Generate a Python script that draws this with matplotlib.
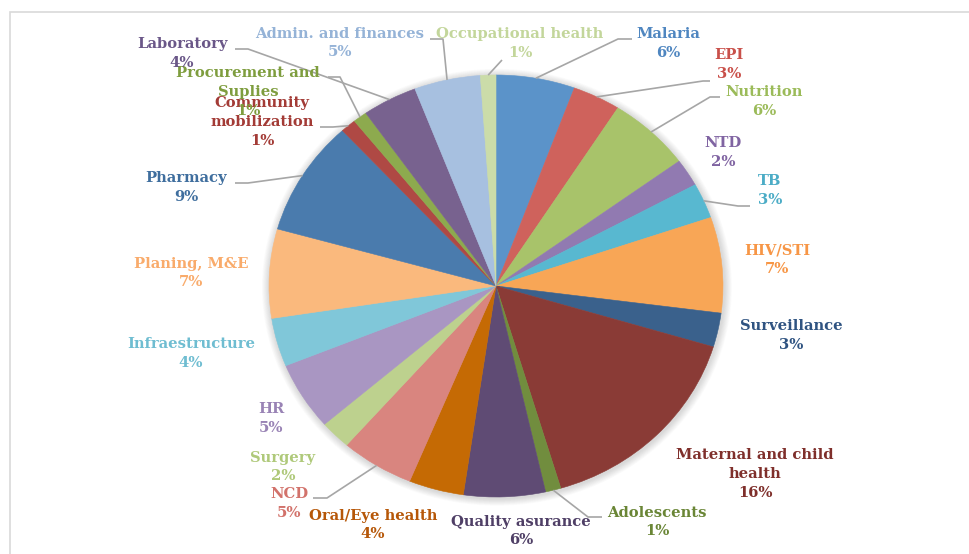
import matplotlib
matplotlib.use("Agg")
import matplotlib.pyplot as plt
from matplotlib.patches import Rectangle, Ellipse
import numpy as np

# ---------------- data ----------------
categories = ["Malaria", "EPI", "Nutrition", "NTD", "TB", "HIV/STI", "Surveillance",
              "Maternal and child\nhealth", "Adolescents", "Quality asurance",
              "Oral/Eye health", "NCD", "Surgery", "HR", "Infraestructure",
              "Planing, M&E", "Pharmacy", "Community\nmobilization",
              "Procurement and\nSuplies", "Laboratory", "Admin. and finances",
              "Occupational health"]
values = [5.6, 3.4, 5.9, 2.1, 2.7, 7.3, 2.6, 15.7, 1.1, 5.8, 3.9, 5.2, 2.2, 5.2,
          3.7, 6.8, 8.8, 1.1, 1.0, 3.9, 4.7, 1.1]
colors = ["#5B93C9", "#CF625C", "#A8C36A", "#917AB1", "#58B8D0", "#F8A656", "#3A618C",
          "#8A3B36", "#718D3E", "#5F4B74", "#C56A04", "#D9857F", "#BDD18E", "#A996C2",
          "#80C7D9", "#FAB97D", "#4A7BAD", "#AF4944", "#8DAA4E", "#78628F", "#A7C0E0",
          "#CBDCA9"]
text_colors = ["#4F86C0", "#C9504A", "#9BBB59", "#8064A2", "#4BACC6", "#F79646", "#2F5381",
               "#7F2F2B", "#6A8636", "#4F3F66", "#B65708", "#D2726B", "#AFC97A", "#9983B5",
               "#6FBDD1", "#F9AB6B", "#3F6E9E", "#A33B36", "#7E9D3E", "#6A5788", "#95B3D7",
               "#C3D69B"]

# ---------------- layout (pixels) ----------------
W, H = 969, 554
CX, CY, RX, RY = 496, 286, 227, 211

label_pos = [(668, 43.5), (729, 64.5), (764, 101.5), (723, 152.5), (770, 190.5),
             (777, 259.5), (791, 335.5), (755, 474), (657, 522), (521, 531),
             (373, 525), (289, 503.5), (283, 467), (271, 418.5), (191, 353.5),
             (191, 273), (186, 187.5), (262, 122), (248, 92), (182, 53.5),
             (340, 43), (520, 43.5)]
# leader line points on label side (end, elbow)
leaders = {0: [(632, 39), (618, 39)], 1: [(710, 81), (703, 81)], 2: [(720, 97), (710, 97)],
           4: [(750, 206), (738, 206)], 8: [(602, 517), (588, 517)],
           11: [(313, 498), (327, 498)], 16: [(235, 183), (248, 183)],
           17: [(320, 127), (333, 127)], 18: [(328, 77), (340, 77)],
           19: [(235, 49), (248, 49)], 20: [(430, 39), (443, 39)],
           21: [(502, 60)]}


def px(x, y):
    return (x - CX) / RX, (CY - y) / RY


fig = plt.figure(figsize=(W / 100, H / 100), dpi=100)
ax = fig.add_axes([0, 0, 1, 1])

# soft shadow
for i in range(10):
    r = 1.0 + 0.0035 * (i + 1)
    ax.add_patch(Ellipse((0.004, -0.006), 2 * r, 2 * r, color="#808080",
                         alpha=0.03, lw=0, zorder=1))

wedges, _ = ax.pie(values, colors=colors, startangle=90, counterclock=False,
                   radius=1.0, center=(0, 0),
                   wedgeprops=dict(linewidth=0.4, zorder=2))
for w in wedges:
    w.set_edgecolor(w.get_facecolor())
    w.set_zorder(2)

ax.set_aspect("auto")
ax.set_xlim(-CX / RX, (W - CX) / RX)
ax.set_ylim((CY - H) / RY, CY / RY)
ax.axis("off")

total = sum(values)
font = dict(family=["DejaVu Serif"], weight="bold", size=10.6)
for i, (cat, v) in enumerate(zip(categories, values)):
    pct = f"{round(100 * v / total):d}%"
    lx, ly = label_pos[i]
    x, y = px(lx, ly)
    ax.text(x, y, f"{cat}\n{pct}", ha="center", va="center", color=text_colors[i],
            linespacing=1.42, zorder=5, **font)
    if i in leaders:
        w = wedges[i]
        th = np.deg2rad((w.theta1 + w.theta2) / 2)
        pts = [px(*p) for p in leaders[i]] + [(np.cos(th), np.sin(th))]
        xs, ys = zip(*pts)
        ax.plot(xs, ys, color="#A6A6A6", lw=1.2, zorder=4, solid_capstyle="butt")

# chart frame (cropped on right and bottom)
fig.patches.append(Rectangle((10 / W, -0.1), 1.2, 1.1 - 12 / H, transform=fig.transFigure,
                             fill=False, edgecolor="#D9D9D9", lw=1.2))

fig.savefig("out.png", dpi=100)
